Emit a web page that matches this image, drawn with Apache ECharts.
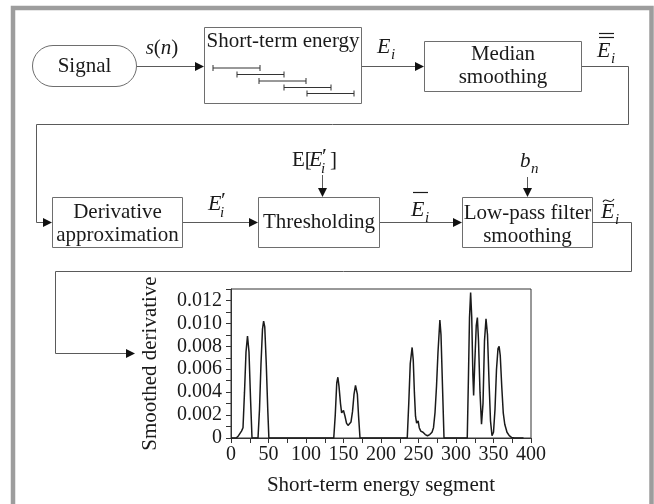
<!DOCTYPE html>
<html>
<head>
<meta charset="utf-8">
<script src="https://cdn.jsdelivr.net/npm/echarts@6/dist/echarts.min.js"></script>
<style>
  html, body { margin: 0; padding: 0; background: #fff; }
  #chart { width: 654px; height: 504px; }
</style>
</head>
<body>
<div id="chart"></div>
<script>
// Smoothed derivative of the short-term energy, per segment
const segIdx = [0, 7, 10, 14, 16, 18, 20, 22, 24, 26, 28,
  36, 38, 40, 42, 43.5, 45, 47, 49, 50.5,
  137, 139, 141, 142.5, 144, 146, 147.5, 150, 152, 154, 156, 158, 160, 162, 164, 166, 167, 168.5, 170, 172,
  235, 237, 239, 241.5, 243, 244.5, 246, 247.5, 249.5, 251, 253, 256, 259, 262, 265, 268, 270, 272, 274, 276, 278.5, 280, 282, 284,
  315, 316.5, 318, 319.5, 321, 322.5, 323.5, 325, 327, 328.5, 330, 332, 334, 336, 338, 340, 342, 344, 346, 348,
  350, 352, 354, 356, 357.5, 359, 361, 363, 365, 368, 371, 374, 378, 390];
const deriv = [0, 0, 0.0002, 0.0006, 0.0009, 0.004, 0.0075, 0.0089, 0.0075, 0.0035, 0,
  0, 0.0025, 0.0065, 0.0095, 0.0102, 0.0097, 0.0065, 0.0025, 0,
  0, 0.002, 0.0048, 0.0053, 0.0045, 0.003, 0.0022, 0.0024, 0.0019, 0.0013, 0.0011, 0.0011, 0.0014, 0.0023, 0.0038, 0.0046, 0.0047, 0.0038, 0.002, 0,
  0, 0.003, 0.0065, 0.0079, 0.0068, 0.004, 0.0019, 0.0013, 0.0015, 0.0009, 0.0006, 0.0005, 0.0003, 0.0002, 0.0003, 0.0005, 0.0009, 0.0022, 0.0045, 0.0075, 0.0103, 0.009, 0.0045, 0,
  0, 0.005, 0.0105, 0.0127, 0.0105, 0.0055, 0.0037, 0.0065, 0.0098, 0.0105, 0.0085, 0.004, 0.0012, 0.003, 0.0085, 0.0104, 0.009, 0.005, 0.0015, 0.0002,
  0.0005, 0.0025, 0.006, 0.0078, 0.008, 0.0072, 0.0045, 0.0022, 0.0012, 0.0005, 0.0002, 0.00005, 0, 0];

const xTickLabels = ['0', '50', '100', '150', '200', '250', '300', '350', '400'];
const yTickLabels = ['0', '0.002', '0.004', '0.006', '0.008', '0.010', '0.012'];

// Processing stages of the flow diagram
const stageTop = ['Short-term energy', 'Median', 'smoothing'];
const stageBottom = ['Derivative', 'approximation', 'Thresholding', 'Low-pass filter', 'smoothing'];

const FONT = '"Liberation Serif", "Times New Roman", serif';
const INK = '#1a1a1a';
const BOX = '#6e6e6e';
const WIRE = '#5a5a5a';

function txt(str, x, y, size, italic, align) {
  const a = align || 'center';
  return {
    type: 'text', z: 10,
    style: {
      text: str, x: x, y: y,
      font: (italic ? 'italic ' : '') + size + 'px ' + FONT,
      fill: INK,
      textAlign: a, align: a,
      textVerticalAlign: 'middle', verticalAlign: 'middle'
    }
  };
}
function rect(x, y, w, h, r) {
  return {
    type: 'rect', z: 5,
    shape: { x: x, y: y, width: w, height: h, r: r || 0 },
    style: { fill: '#fff', stroke: BOX, lineWidth: 1 }
  };
}
function wire(points, color, width) {
  return {
    type: 'polyline', z: 6,
    shape: { points: points },
    style: { stroke: color || WIRE, lineWidth: width || 1, fill: null }
  };
}
function headRight(x, y) {
  return { type: 'polygon', z: 7, shape: { points: [[x, y], [x - 9, y - 4.5], [x - 9, y + 4.5]] }, style: { fill: '#111' } };
}
function headDown(x, y) {
  return { type: 'polygon', z: 7, shape: { points: [[x, y], [x - 4.5, y - 9], [x + 4.5, y - 9]] }, style: { fill: '#111' } };
}

const g = [];
// outer frame
g.push({ type: 'rect', z: 1, shape: { x: 13, y: 8, width: 638.5, height: 520 }, style: { fill: null, stroke: '#9d9d9d', lineWidth: 4.5 } });

// ---- row 1 ----
g.push(rect(32.5, 45.5, 104, 41, 20.5));
g.push(txt('Signal', 84.5, 66, 21));
g.push(wire([[137, 66.5], [196, 66.5]]));
g.push(headRight(204, 66.5));
g.push({
  type: 'text', z: 10,
  style: {
    text: '{i|s}{r|(}{i|n}{r|)}', x: 162, y: 48,
    textAlign: 'center', align: 'center', textVerticalAlign: 'middle', verticalAlign: 'middle',
    rich: {
      i: { font: 'italic 21px ' + FONT, fill: INK },
      r: { font: '21px ' + FONT, fill: INK }
    }
  }
});

g.push(rect(204.5, 27.5, 157, 76));
g.push(txt(stageTop[0], 283, 41, 21));
// overlapping frame windows
const winX = [213, 237, 259, 284, 307];
const winY = [68, 74.5, 81, 87.5, 93.5];
winX.forEach(function (x0, k) {
  const y0 = winY[k];
  g.push(wire([[x0, y0], [x0 + 47, y0]], '#333', 1));
  g.push(wire([[x0, y0 - 3], [x0, y0 + 3]], '#333', 1));
  g.push(wire([[x0 + 47, y0 - 3], [x0 + 47, y0 + 3]], '#333', 1));
});
g.push(wire([[362, 66.5], [416, 66.5]]));
g.push(headRight(424, 66.5));
g.push(txt('E', 377, 47, 22, true, 'left'));
g.push(txt('i', 391, 55, 15, true, 'left'));

g.push(rect(424.5, 41.5, 157, 50));
g.push(txt(stageTop[1], 503, 54, 21));
g.push(txt(stageTop[2], 503, 77, 21));
g.push(txt('E', 597, 51, 22, true, 'left'));
g.push(txt('i', 611, 59, 15, true, 'left'));
g.push(wire([[599, 33.5], [614, 33.5]], INK, 1.2));
g.push(wire([[599, 37.5], [614, 37.5]], INK, 1.2));

g.push(wire([[582, 66.5], [628.5, 66.5], [628.5, 124.5], [36.5, 124.5], [36.5, 222.5], [44, 222.5]]));
g.push(headRight(52, 222.5));

// ---- row 2 ----
g.push(rect(52.5, 197.5, 130, 50));
g.push(txt(stageBottom[0], 117.5, 212, 21));
g.push(txt(stageBottom[1], 117.5, 235, 21));
g.push(wire([[183, 222.5], [250, 222.5]]));
g.push(headRight(258, 222.5));
g.push(txt('E', 208, 204, 22, true, 'left'));
g.push(txt('\u2032', 221, 201, 22, false, 'left'));
g.push(txt('i', 220, 213, 15, true, 'left'));

g.push(rect(258.5, 197.5, 121, 50));
g.push(txt(stageBottom[2], 319, 222, 21));
g.push(txt('E[', 292, 160, 21, false, 'left'));
g.push(txt('E', 309, 160, 22, true, 'left'));
g.push(txt('\u2032', 322, 157, 22, false, 'left'));
g.push(txt('i', 321, 169, 15, true, 'left'));
g.push(txt(']', 330, 160, 21, false, 'left'));
g.push(wire([[322.5, 175], [322.5, 190]]));
g.push(headDown(322.5, 197));
g.push(wire([[380, 222.5], [454, 222.5]]));
g.push(headRight(462, 222.5));
g.push(txt('E', 411, 210, 22, true, 'left'));
g.push(txt('i', 425, 218, 15, true, 'left'));
g.push(wire([[413, 192.5], [428, 192.5]], INK, 1.2));

g.push(rect(462.5, 197.5, 130, 50));
g.push(txt(stageBottom[3], 527.5, 213, 21));
g.push(txt(stageBottom[4], 527.5, 236, 21));
g.push(txt('b', 520, 161, 21, true, 'left'));
g.push(txt('n', 531, 169, 15, true, 'left'));
g.push(wire([[527.5, 177], [527.5, 190]]));
g.push(headDown(527.5, 197));
g.push(txt('E', 601, 212, 22, true, 'left'));
g.push(txt('i', 615, 220, 15, true, 'left'));
g.push({
  type: 'bezierCurve', z: 10,
  shape: { x1: 603, y1: 202, cpx1: 606, cpy1: 196, cpx2: 610, cpy2: 206, x2: 614, y2: 199 },
  style: { stroke: INK, lineWidth: 1.1, fill: null }
});
g.push(wire([[592, 222.5], [631.5, 222.5], [631.5, 271.5], [55.5, 271.5], [55.5, 353.5], [127, 353.5]]));
g.push(headRight(135, 353.5));

const chart = echarts.init(document.getElementById('chart'), null, { renderer: 'canvas' });
chart.setOption({
  animation: false,
  backgroundColor: '#fff',
  grid: {
    left: 231, right: 123, top: 289, bottom: 66,
    show: true, borderColor: '#333', borderWidth: 1, backgroundColor: 'transparent'
  },
  xAxis: {
    type: 'value', min: 0, max: 400, interval: 25,
    name: 'Short-term energy segment', nameLocation: 'middle', nameGap: 37,
    nameTextStyle: { fontFamily: FONT, fontSize: 21, color: INK },
    axisLine: { onZero: false, lineStyle: { color: '#333', width: 1 } },
    axisTick: { show: true, inside: false, length: 5, lineStyle: { color: '#333' } },
    axisLabel: {
      margin: 7, fontFamily: FONT, fontSize: 20, color: INK,
      formatter: function (v) {
        const k = Math.round(v / 50);
        return Math.abs(v - k * 50) < 1e-6 ? xTickLabels[k] : '';
      }
    },
    splitLine: { show: false }
  },
  yAxis: {
    type: 'value', min: 0, max: 0.013, interval: 0.001,
    name: 'Smoothed derivative', nameLocation: 'middle', nameGap: 70, nameRotate: 90,
    nameTextStyle: { fontFamily: FONT, fontSize: 21, color: INK },
    axisLine: { onZero: false, lineStyle: { color: '#333', width: 1 } },
    axisTick: { show: true, inside: false, length: 5, lineStyle: { color: '#333' } },
    axisLabel: {
      margin: 9, fontFamily: FONT, fontSize: 20, color: INK,
      formatter: function (v) {
        const k = Math.round(v * 1000);
        return (k % 2 === 0 && k / 2 < yTickLabels.length) ? yTickLabels[k / 2] : '';
      }
    },
    splitLine: { show: false }
  },
  series: [{
    type: 'line',
    data: segIdx.map(function (x, k) { return [x, deriv[k]]; }),
    showSymbol: false,
    smooth: false,
    lineStyle: { color: '#1a1a1a', width: 1.5 },
    z: 3
  }],
  graphic: { elements: g }
});
</script>
</body>
</html>
